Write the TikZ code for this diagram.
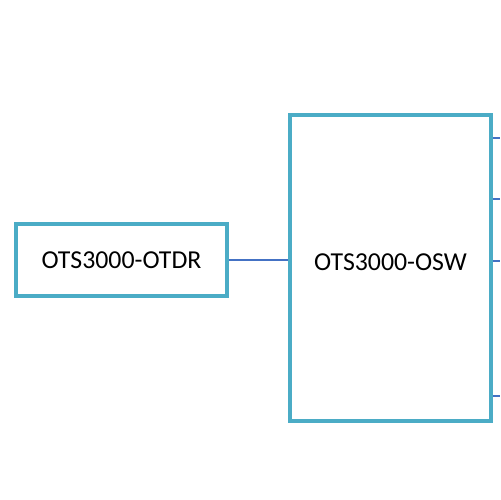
\documentclass[tikz,border=0pt]{standalone}
\usepackage{fontspec}
\setmainfont{Carlito}
\usepackage{xcolor}
\definecolor{boxteal}{HTML}{4BACC6}
\definecolor{lineblue}{HTML}{4472C4}

\begin{document}
\begin{tikzpicture}[x=0.02cm, y=-0.02cm, line width=2.3pt, every node/.style={rectangle, draw=boxteal, fill=white, font=\fontsize{14.7}{17}\selectfont}, link/.style={draw=lineblue, line width=0.85pt}]

    \useasboundingbox (0, 0) rectangle (500, 500);
    \node [minimum width=4.22cm, minimum height=1.44cm] (otdr) at (121.5, 260) {OTS3000-OTDR};
    \node [minimum width=4.02cm, minimum height=6.12cm, text depth=0.24cm] (osw) at (390.5, 268) {OTS3000-OSW};
    \draw [link] (otdr.east) -- (otdr.east -| osw.west);

    \foreach \y [count=\i] in {138, 199, 261, 396}
        \coordinate (port\i) at (500, \y);
    \foreach \i in {1,...,4}
        \draw [link] (port\i -| osw.east) -- (port\i);

\end{tikzpicture}
\end{document}
